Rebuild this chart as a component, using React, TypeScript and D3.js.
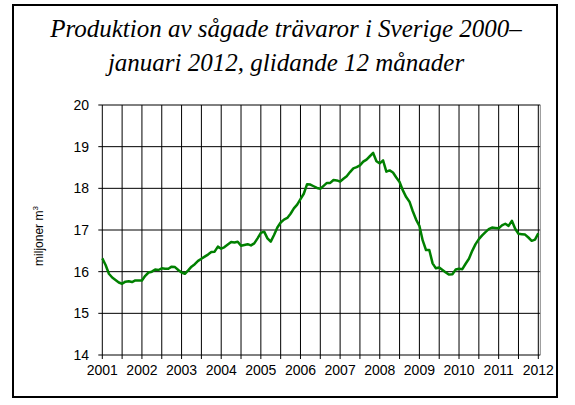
import React from 'react';
import * as d3 from 'd3';

const titleLines = ['Produktion av sågade trävaror i Sverige 2000–', 'januari 2012, glidande 12 månader'];
const yAxisTitle = 'miljoner m';
const yAxisTitleSup = '3';
const yearLabels = ['2001', '2002', '2003', '2004', '2005', '2006', '2007', '2008', '2009', '2010', '2011', '2012'];
const yTicks = [14, 15, 16, 17, 18, 19, 20];
// Monthly values, 12-month moving sum, Jan 2001 .. Jan 2012 (million m3)
const production = [
  16.32, 16.16, 15.95, 15.86, 15.80, 15.74, 15.71, 15.76, 15.77, 15.75, 15.79, 15.79,
  15.79, 15.90, 15.98, 16.00, 16.05, 16.04, 16.08, 16.07, 16.07, 16.12, 16.11, 16.04,
  15.98, 15.95, 16.03, 16.12, 16.18, 16.26, 16.31, 16.36, 16.41, 16.47, 16.48, 16.60,
  16.55, 16.59, 16.65, 16.71, 16.70, 16.72, 16.62, 16.64, 16.66, 16.63, 16.68, 16.80,
  16.93, 16.96, 16.80, 16.72, 16.88, 17.06, 17.18, 17.25, 17.29, 17.39, 17.52, 17.61,
  17.74, 17.87, 18.10, 18.09, 18.05, 18.01, 17.99, 18.06, 18.13, 18.13, 18.20, 18.19,
  18.16, 18.23, 18.29, 18.39, 18.48, 18.51, 18.55, 18.64, 18.69, 18.77, 18.85, 18.65,
  18.60, 18.67, 18.40, 18.43, 18.38, 18.26, 18.15, 17.95, 17.79, 17.68, 17.45, 17.25,
  17.10, 16.75, 16.52, 16.52, 16.20, 16.08, 16.10, 16.04, 15.98, 15.93, 15.94, 16.05,
  16.07, 16.06, 16.19, 16.31, 16.50, 16.66, 16.78, 16.87, 16.95, 17.02, 17.06, 17.05,
  17.04, 17.11, 17.15, 17.10, 17.22, 17.03, 16.91, 16.90, 16.89, 16.82, 16.74, 16.77,
  16.92,
];

export default function App() {
  const W = 575, H = 405;
  const x0 = 102.3, x1 = 538.3, yTop = 105, yBot = 355;
  const nMonths = production.length - 1;
  const x = d3.scaleLinear().domain([0, nMonths]).range([x0, x1]);
  const y = d3.scaleLinear().domain([14, 20]).range([yBot, yTop]);
  const line = d3.line<number>().x((_, i) => x(i)).y(d => y(d));
  const grid = d3.range(0, nMonths + 1, 6);
  const sans = 'Liberation Sans, Arial, sans-serif';

  return (
    <svg width={W} height={H} style={{ position: 'absolute', left: 0, top: 0, background: '#fff' }}>
      <rect x={13} y={5} width={544} height={392} fill="#fff" stroke="#000" strokeWidth={2} />
      {titleLines.map((t, i) => (
        <text key={i} x={286} y={37 + i * 34} textAnchor="middle" fontFamily="Liberation Serif, Times New Roman, serif"
          fontStyle="italic" fontSize={25} fill="#000">{t}</text>
      ))}
      {/* horizontal gridlines */}
      {yTicks.map(v => (
        <line key={'h' + v} x1={x0 - 4} x2={x1 + 2} y1={y(v)} y2={y(v)} stroke="#000" strokeWidth={1} />
      ))}
      {/* vertical gridlines */}
      {grid.map(m => (
        <line key={'v' + m} x1={x(m)} x2={x(m)} y1={yTop} y2={yBot + 4} stroke="#000" strokeWidth={1} />
      ))}
      <line x1={x1 + 2} x2={x1 + 2} y1={yTop} y2={yBot} stroke="#888" strokeWidth={1} />
      {yTicks.map(v => (
        <text key={'yl' + v} x={89} y={y(v) + 5} textAnchor="end" fontFamily={sans} fontSize={14} fill="#000">{v}</text>
      ))}
      {yearLabels.map((l, i) => (
        <text key={'xl' + l} x={x(i * 12)} y={375} textAnchor="middle" fontFamily={sans} fontSize={14} fill="#000">{l}</text>
      ))}
      <text transform="translate(43,236) rotate(-90)" textAnchor="middle" fontFamily={sans} fontSize={12} fill="#000">
        {yAxisTitle}<tspan dy={-5} fontSize={8}>{yAxisTitleSup}</tspan>
      </text>
      <path d={line(production) || ''} fill="none" stroke="#008000" strokeWidth={2.5} strokeLinejoin="round" />
    </svg>
  );
}
